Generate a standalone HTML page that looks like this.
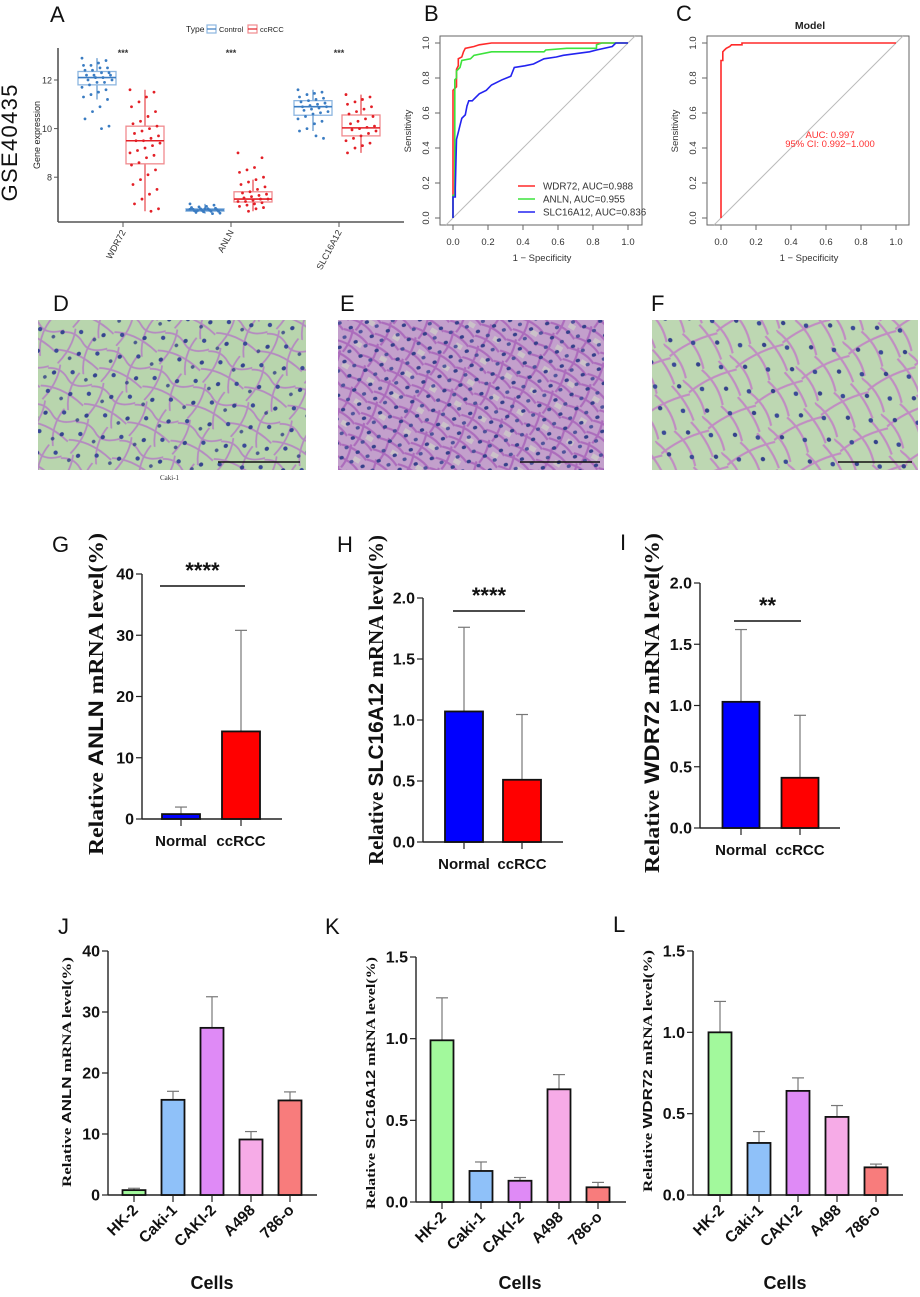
<!DOCTYPE html>
<html><head><meta charset="utf-8">
<style>
html,body{margin:0;padding:0;background:#fff;}
svg{display:block;font-family:"Liberation Sans",sans-serif;}
</style></head>
<body>
<svg id="fig" xmlns="http://www.w3.org/2000/svg" width="920" height="1297" viewBox="0 0 920 1297">
<defs>
 <pattern id="memD" width="47" height="39" patternUnits="userSpaceOnUse" patternTransform="rotate(23)">
  <path d="M0 8 Q12 2 22 10 T47 6 M10 0 Q15 18 7 39 M31 0 Q25 21 35 39 M0 27 Q21 19 47 29" stroke="#b47ec3" stroke-width="1.8" fill="none" opacity="0.85"/>
 </pattern>
 <pattern id="nucD" width="31" height="27" patternUnits="userSpaceOnUse" patternTransform="rotate(-37)">
  <ellipse cx="5" cy="6" rx="2.3" ry="2" fill="#34448e"/><ellipse cx="20" cy="17" rx="2.2" ry="2.1" fill="#3a4a96"/>
  <ellipse cx="26" cy="4" rx="1.9" ry="1.8" fill="#2f3d86" opacity="0.8"/>
 </pattern>
 <pattern id="memE" width="29" height="25" patternUnits="userSpaceOnUse" patternTransform="rotate(31)">
  <path d="M0 5 Q15 0 29 6 M0 18 Q15 13 29 20 M8 0 Q13 13 11 25" stroke="#a65fb8" stroke-width="2.2" fill="none" opacity="0.8"/>
  <rect x="17" y="8" width="7" height="5" fill="#d0d8c6" opacity="0.6"/>
 </pattern>
 <pattern id="nucE" width="17" height="15" patternUnits="userSpaceOnUse" patternTransform="rotate(-19)">
  <ellipse cx="4" cy="4" rx="2.2" ry="1.8" fill="#35408a"/><ellipse cx="12" cy="11" rx="2.1" ry="1.7" fill="#3b4793" opacity="0.85"/>
 </pattern>
 <pattern id="memF" width="53" height="41" patternUnits="userSpaceOnUse" patternTransform="rotate(-28)">
  <path d="M0 0 Q10 20 4 41 M22 0 Q30 20 24 41 M0 14 Q26 9 53 16 M41 0 Q47 22 44 41" stroke="#c07ac6" stroke-width="2.2" fill="none" opacity="0.8"/>
 </pattern>
 <pattern id="nucF" width="37" height="29" patternUnits="userSpaceOnUse" patternTransform="rotate(41)">
  <ellipse cx="8" cy="7" rx="2.4" ry="2.2" fill="#3a4a96"/><ellipse cx="26" cy="20" rx="2.3" ry="2.1" fill="#34428a"/>
 </pattern>
</defs>
<g id="root"></g>
</svg>
<script>
// ---------- Panel A data ----------
const boxGenes = ["WDR72", "ANLN", "SLC16A12"];
const boxGroups = ["Control", "ccRCC"];
// [lowerWhisker, q1, median, q3, upperWhisker]
const statsControl = [[11.2, 11.8, 12.1, 12.35, 12.9], [6.5, 6.6, 6.65, 6.7, 6.9], [9.9, 10.55, 10.9, 11.15, 11.6]];
const statsCcRCC = [[6.6, 8.55, 9.5, 10.1, 11.6], [6.6, 6.98, 7.1, 7.4, 7.9], [9.0, 9.7, 10.03, 10.56, 11.4]];
const pointsControl = [
 [12.9,12.8,12.7,12.6,12.6,12.5,12.5,12.4,12.4,12.3,12.3,12.2,12.2,12.2,12.1,12.1,12.0,12.0,11.9,11.9,11.8,11.7,11.6,11.5,11.4,11.3,11.2,10.9,10.7,10.4,10.1,10.0],
 [6.9,6.85,6.8,6.78,6.75,6.72,6.7,6.7,6.68,6.66,6.65,6.64,6.62,6.6,6.6,6.58,6.55,6.52,6.5,6.7,6.63,6.68],
 [11.6,11.5,11.45,11.4,11.3,11.25,11.2,11.15,11.1,11.05,11.0,10.95,10.9,10.9,10.85,10.8,10.75,10.7,10.65,10.6,10.5,10.4,10.3,10.2,10.0,9.9,9.6,9.7]];
const pointsCcRCC = [
 [11.6,11.5,11.3,11.1,10.9,10.7,10.5,10.3,10.2,10.1,10.0,9.9,9.8,9.7,9.6,9.5,9.5,9.4,9.3,9.2,9.1,9.0,8.9,8.8,8.6,8.5,8.3,8.1,7.9,7.7,7.5,7.3,7.1,6.9,6.7,6.6],
 [9.0,8.8,8.4,8.3,8.2,8.0,7.9,7.8,7.7,7.6,7.5,7.4,7.35,7.3,7.25,7.2,7.15,7.1,7.1,7.05,7.0,7.0,6.95,6.9,6.85,6.8,6.75,6.7,6.6],
 [11.4,11.3,11.2,11.1,11.0,10.9,10.8,10.7,10.6,10.5,10.4,10.3,10.2,10.1,10.05,10.0,9.95,9.9,9.8,9.7,9.6,9.5,9.4,9.3,9.2,9.0]];
const boxYTicks = [8, 10, 12];

// ---------- Panel B/C data (ROC) ----------
const rocNames = ["WDR72, AUC=0.988", "ANLN, AUC=0.955", "SLC16A12, AUC=0.836"];
const rocWdr72Fpr = [0,0,0.02,0.02,0.03,0.03,0.05,0.06,0.07,0.12,0.15,0.22,1.0];
const rocWdr72Tpr = [0,0.73,0.75,0.85,0.87,0.91,0.92,0.95,0.97,0.98,0.99,1.0,1.0];
const rocAnlnFpr = [0,0,0.01,0.01,0.02,0.02,0.04,0.05,0.10,0.12,0.22,0.52,0.53,0.65,0.82,0.82,0.85,1.0];
const rocAnlnTpr = [0,0.13,0.13,0.79,0.80,0.84,0.86,0.90,0.91,0.93,0.95,0.95,0.96,0.97,0.97,0.99,1.0,1.0];
const rocSlcFpr = [0,0,0.013,0.013,0.02,0.03,0.04,0.05,0.07,0.08,0.09,0.11,0.12,0.15,0.19,0.22,0.28,0.33,0.35,0.41,0.46,0.52,0.59,0.63,0.78,0.82,0.91,0.93,1.0];
const rocSlcTpr = [0,0.12,0.12,0.17,0.45,0.49,0.53,0.57,0.59,0.64,0.67,0.67,0.68,0.71,0.73,0.76,0.79,0.81,0.86,0.87,0.88,0.91,0.92,0.93,0.95,0.96,0.98,1.0,1.0];
const rocModelFpr = [0,0,0.01,0.01,0.02,0.03,0.05,0.06,0.12,0.12,1.0];
const rocModelTpr = [0,0.90,0.90,0.95,0.96,0.97,0.98,0.99,0.99,1.0,1.0];
const rocTicks = [0, 0.2, 0.4, 0.6, 0.8, 1.0];
const rocTickLabels = ["0.0","0.2","0.4","0.6","0.8","1.0"];

// ---------- Panel G/H/I data ----------
const groupCats = ["Normal", "ccRCC"];
const anlnTissueMean = [0.8, 14.3];
const anlnTissueErr = [1.95, 30.8];
const slcTissueMean = [1.07, 0.51];
const slcTissueErr = [1.76, 1.045];
const wdrTissueMean = [1.03, 0.41];
const wdrTissueErr = [1.62, 0.92];
const ticks40 = [0, 10, 20, 30, 40];
const ticks2 = [0, 0.5, 1.0, 1.5, 2.0];
const ticks2Labels = ["0.0","0.5","1.0","1.5","2.0"];

// ---------- Panel J/K/L data ----------
const cellCats = ["HK-2", "Caki-1", "CAKI-2", "A498", "786-o"];
const anlnCellMean = [0.8, 15.6, 27.4, 9.1, 15.5];
const anlnCellErr = [1.1, 17.0, 32.5, 10.4, 16.9];
const slcCellMean = [0.99, 0.19, 0.13, 0.69, 0.09];
const slcCellErr = [1.25, 0.245, 0.15, 0.78, 0.12];
const wdrCellMean = [1.0, 0.32, 0.64, 0.48, 0.17];
const wdrCellErr = [1.19, 0.39, 0.72, 0.55, 0.19];
const ticks15 = [0, 0.5, 1.0, 1.5];
const ticks15Labels = ["0.0","0.5","1.0","1.5"];

const NS = "http://www.w3.org/2000/svg";
const root = document.getElementById("root");
function mk(tag, attrs, parent, text) {
  const e = document.createElementNS(NS, tag);
  for (const k in attrs) e.setAttribute(k, attrs[k]);
  if (text !== undefined) e.textContent = text;
  (parent || root).appendChild(e);
  return e;
}
function grp(name, parent) {
  const g = mk("g", {}, parent);
  
  
  return g;
}
function label(txt, x, y, name) {
  const t = mk("text", {x: x, y: y, "font-size": 22, fill: "#111"}, root, txt);
  
  
}

// ================= Panel A =================
(function () {
  const g = grp("panel-a-boxplot");
  const yA = v => 80 + (12 - v) * 24.3;
  const catX = [123, 231, 339];
  const offs = [-26, 22];
  const cols = ["#3a7cc2", "#e31f26"];
  const light = ["#8db6e0", "#f08a8e"];
  label("A", 50, 22, "panel-a-label");
  const gse = mk("text", {x: 0, y: 0, "font-size": 22, fill: "#111", transform: "translate(17,143) rotate(-90)", "text-anchor": "middle", textLength: 117}, g, "GSE40435");
  
  
  const yt = mk("text", {x: 0, y: 0, "font-size": 9, fill: "#222", transform: "translate(40,135) rotate(-90)", "text-anchor": "middle"}, g, "Gene expression");
  
  
  // legend
  const lg = grp("legend", g);
  mk("text", {x: 186, y: 32, "font-size": 8.5, fill: "#222"}, lg, "Type");
  boxGroups.forEach((name, i) => {
    const lx = [207, 248][i];
    const e = mk("rect", {x: lx, y: 25, width: 9, height: 8, fill: "none", stroke: light[i], "stroke-width": 1.2}, lg);
    
    
    mk("line", {x1: lx, x2: lx + 9, y1: 29, y2: 29, stroke: cols[i], "stroke-width": 1.2}, lg);
    const t = mk("text", {x: lx + 12, y: 32, "font-size": 7.5, fill: "#222"}, lg, name);
    
    
  });
  // axes
  mk("line", {x1: 58, x2: 58, y1: 48, y2: 222, stroke: "#555", "stroke-width": 1.6}, g);
  mk("line", {x1: 58, x2: 404, y1: 222, y2: 222, stroke: "#555", "stroke-width": 1.6}, g);
  boxYTicks.forEach(v => {
    mk("line", {x1: 54, x2: 58, y1: yA(v), y2: yA(v), stroke: "#555"}, g);
    const t = mk("text", {x: 52, y: yA(v) + 3.5, "font-size": 9, fill: "#333", "text-anchor": "end"}, g, String(v));
    
    
  });
  boxGenes.forEach((gene, ci) => {
    const cx = catX[ci];
    mk("line", {x1: cx, x2: cx, y1: 222, y2: 227, stroke: "#555"}, g);
    const t = mk("text", {x: 0, y: 0, "font-size": 9, fill: "#333", "text-anchor": "end", transform: `translate(${cx + 3},232) rotate(-62)`}, g, gene);
    
    
    const s = mk("text", {x: cx, y: 56, "font-size": 9, "font-weight": "bold", fill: "#333", "text-anchor": "middle"}, g, "***");
    
    
    [statsControl, statsCcRCC].forEach((st, gi) => {
      const d = st[ci];
      const bx = cx + offs[gi];
      const hw = 19;
      const bg = grp('box-' + gene.toLowerCase() + '-' + boxGroups[gi].toLowerCase(), g);
      mk("line", {x1: bx, x2: bx, y1: yA(d[4]), y2: yA(d[3]), stroke: cols[gi], "stroke-width": 1}, bg);
      mk("line", {x1: bx, x2: bx, y1: yA(d[1]), y2: yA(d[0]), stroke: cols[gi], "stroke-width": 1}, bg);
      mk("rect", {x: bx - hw, y: yA(d[3]), width: 2 * hw, height: Math.max(1, yA(d[1]) - yA(d[3])), fill: "#fff", "fill-opacity": 0.6, stroke: light[gi], "stroke-width": 1.3}, bg);
      mk("line", {x1: bx - hw, x2: bx + hw, y1: yA(d[2]), y2: yA(d[2]), stroke: cols[gi], "stroke-width": 1.6}, bg);
      const pts = (gi === 0 ? pointsControl : pointsCcRCC)[ci];
      pts.forEach((v, i) => {
        const jitter = (((i * 37) % 21) - 10) / 10 * 15;
        const p = mk("circle", {cx: bx + jitter, cy: yA(v), r: 1.4, fill: cols[gi]}, bg);
        
        
      });
    });
  });
})();

// ================= ROC panels =================
function rocPanel(opt) {
  const g = grp(opt.name);
  const sx = v => opt.x0 + v * 175;
  const sy = v => 218 - v * 175;
  mk("rect", {x: opt.bx, y: 36, width: 202, height: 189, fill: "none", stroke: "#666", "stroke-width": 1}, g);
  mk("line", {x1: sx(-0.04), y1: sy(-0.04), x2: sx(1.04), y2: sy(1.04), stroke: "#bbb", "stroke-width": 1}, g);
  rocTicks.forEach((v, i) => {
    mk("line", {x1: sx(v), x2: sx(v), y1: 225, y2: 230, stroke: "#666"}, g);
    const t = mk("text", {x: sx(v), y: 245, "font-size": 9.5, fill: "#333", "text-anchor": "middle"}, g, rocTickLabels[i]);
    
    
    mk("line", {x1: opt.bx - 5, x2: opt.bx, y1: sy(v), y2: sy(v), stroke: "#666"}, g);
    const t2 = mk("text", {x: 0, y: 0, "font-size": 9.5, fill: "#333", "text-anchor": "middle", transform: `translate(${opt.bx - 11},${sy(v)}) rotate(-90)`}, g, rocTickLabels[i]);
    
    
  });
  const xt = mk("text", {x: opt.bx + 102, y: 261, "font-size": 9.5, fill: "#333", "text-anchor": "middle"}, g, "1 − Specificity");
  
  
  const ytt = mk("text", {x: 0, y: 0, "font-size": 9.5, fill: "#333", "text-anchor": "middle", transform: `translate(${opt.bx - 29},131) rotate(-90)`}, g, "Sensitivity");
  
  
  opt.series.forEach(s => {
    const d = s.fpr.map((f, i) => (i ? "L" : "M") + sx(f).toFixed(1) + " " + sy(s.tpr[i]).toFixed(1)).join(" ");
    const p = mk("path", {d: d, fill: "none", stroke: s.color, "stroke-width": 1.6}, g);
    
    
  });
  return g;
}
label("B", 424, 21, "panel-b-label");
const gB = rocPanel({name: "panel-b-roc", bx: 440, x0: 453, series: [
  {id: "roc-wdr72", fpr: rocWdr72Fpr, tpr: rocWdr72Tpr, color: "#ff2a2a"},
  {id: "roc-anln", fpr: rocAnlnFpr, tpr: rocAnlnTpr, color: "#3de33d"},
  {id: "roc-slc16a12", fpr: rocSlcFpr, tpr: rocSlcTpr, color: "#2323f0"}]});
const legCols = ["#ff2a2a", "#3de33d", "#2323f0"];
rocNames.forEach((n, i) => {
  const y = 186 + i * 13;
  mk("line", {x1: 518, x2: 535, y1: y, y2: y, stroke: legCols[i], "stroke-width": 1.5}, gB);
  const t = mk("text", {x: 543, y: y + 3.5, "font-size": 9.8, fill: "#333"}, gB, n);
  
  
});
label("C", 676, 21, "panel-c-label");
const gC = rocPanel({name: "panel-c-roc", bx: 707, x0: 721, series: [
  {id: "roc-model", fpr: rocModelFpr, tpr: rocModelTpr, color: "#ff2a2a"}]});
const ct = mk("text", {x: 810, y: 29, "font-size": 10.5, "font-weight": "bold", fill: "#222", "text-anchor": "middle"}, gC, "Model");


const a1 = mk("text", {x: 830, y: 138, "font-size": 9.5, fill: "#ff3030", "text-anchor": "middle"}, gC, "AUC: 0.997");


const a2 = mk("text", {x: 830, y: 147, "font-size": 9.5, fill: "#ff3030", "text-anchor": "middle"}, gC, "95% CI: 0.992−1.000");



// ================= Histology =================
(function () {
  const g = grp("histology-row");
  const imgs = [["D", 53, 38, 268, "#b8d5ad", "memD", "nucD", 218, 300], ["E", 340, 338, 266, "#c3a0cc", "memE", "nucE", 520, 600], ["F", 651, 652, 266, "#bdd7b2", "memF", "nucF", 838, 912]];
  imgs.forEach(m => {
    label(m[0], m[1], 311, "panel-" + m[0].toLowerCase() + "-label");
    const ig = grp('he-stain-image-' + m[0].toLowerCase(), g);
    mk("rect", {x: m[2], y: 320, width: m[3], height: 150, fill: m[4]}, ig);
    mk("rect", {x: m[2], y: 320, width: m[3], height: 150, fill: `url(#${m[5]})`}, ig);
    mk("rect", {x: m[2], y: 320, width: m[3], height: 150, fill: `url(#${m[6]})`}, ig);
    const sb = mk("line", {x1: m[7], x2: m[8], y1: 462, y2: 462, stroke: "#111", "stroke-width": 1.6}, g);
    
    
  });
  const ck = mk("text", {x: 160, y: 480, "font-size": 7, fill: "#333", "font-family": "Liberation Serif, serif"}, g, "Caki-1");
  
  
})();

// ================= Bar charts =================
function barChart(o) {
  const g = grp(o.name);
  const sy = v => o.y0 - (v / o.max) * (o.y0 - o.yTop);
  mk("line", {x1: o.ax, x2: o.ax, y1: sy(o.max), y2: o.y0, stroke: "#222", "stroke-width": 1.4}, g);
  mk("line", {x1: o.ax, x2: o.xEnd, y1: o.y0, y2: o.y0, stroke: "#222", "stroke-width": 1.4}, g);
  o.ticks.forEach((v, i) => {
    mk("line", {x1: o.ax - 6, x2: o.ax, y1: sy(v), y2: sy(v), stroke: "#222", "stroke-width": 1.2}, g);
    const t = mk("text", {x: o.ax - 8, y: sy(v) + 5.5, "font-size": o.tickFs, "font-weight": "bold", fill: "#111", "text-anchor": "end"}, g, o.tickLabels[i]);
    
    
  });
  o.cats.forEach((c, i) => {
    const cx = o.c0 + i * o.step;
    const eb = mk("line", {x1: cx, x2: cx, y1: sy(o.err[i]), y2: sy(o.vals[i]), stroke: "#777", "stroke-width": 1.2}, g);
    
    
    mk("line", {x1: cx - 6, x2: cx + 6, y1: sy(o.err[i]), y2: sy(o.err[i]), stroke: "#777", "stroke-width": 1.2}, g);
    const b = mk("rect", {x: cx - o.bw / 2, y: sy(o.vals[i]), width: o.bw, height: o.y0 - sy(o.vals[i]), fill: o.colors[i], stroke: "#111", "stroke-width": 1.8}, g);
    
    
    mk("line", {x1: cx, x2: cx, y1: o.y0, y2: o.y0 + 7, stroke: "#222", "stroke-width": 1.2}, g);
    let t;
    if (o.rot) {
      t = mk("text", {x: 0, y: 0, "font-size": 15.5, "font-weight": "bold", fill: "#111", "text-anchor": "end", transform: `translate(${cx + 5},${o.y0 + 16}) rotate(-45)`}, g, c);
    } else {
      t = mk("text", {x: cx, y: o.y0 + 27, "font-size": 15, "font-weight": "bold", fill: "#111", "text-anchor": "middle"}, g, c);
    }
    
    
  });
  const yt = mk("text", {x: 0, y: 0, "font-weight": "bold", fill: "#111", "text-anchor": "middle", "font-size": o.yFs, transform: `translate(${o.ytx},${o.yty}) rotate(-90)`, textLength: o.ytLen, lengthAdjust: "spacingAndGlyphs"}, g);
  
  
  mk("tspan", {"font-family": "Liberation Serif, serif"}, yt, "Relative ");
  mk("tspan", {"font-family": "Liberation Sans, sans-serif"}, yt, o.gene);
  mk("tspan", {"font-family": "Liberation Serif, serif"}, yt, " mRNA  level(%)");
  if (o.sig) {
    const l = mk("line", {x1: o.sig[0], x2: o.sig[1], y1: o.sig[2], y2: o.sig[2], stroke: "#111", "stroke-width": 1.6}, g);
    
    
    const s = mk("text", {x: (o.sig[0] + o.sig[1]) / 2, y: o.sig[2] - 8, "font-size": 22, "font-weight": "bold", fill: "#111", "text-anchor": "middle"}, g, o.sig[3]);
    
    
  }
  if (o.xTitle) {
    const xt = mk("text", {x: o.xTitle, y: 1289, "font-size": 18, "font-weight": "bold", fill: "#111", "text-anchor": "middle"}, g, "Cells");
    
    
  }
}
const twoCols = ["#0000ff", "#ff0000"];
const fiveCols = ["#a2f99c", "#8fc1f9", "#df8af6", "#f6abe7", "#f87c7c"];

label("G", 52, 552, "panel-g-label");
barChart({name: "panel-g-anln-tissue", cats: groupCats, vals: anlnTissueMean, err: anlnTissueErr, colors: twoCols, ax: 142, y0: 819, yTop: 574, max: 40, ticks: ticks40, tickLabels: ticks40.map(String), tickFs: 16, c0: 181, step: 60, bw: 38, xEnd: 282, ytx: 103, yty: 694, yFs: 21, ytLen: 322, gene: "ANLN", sig: [160, 245, 586, "****"]});
label("H", 337, 552, "panel-h-label");
barChart({name: "panel-h-slc16a12-tissue", cats: groupCats, vals: slcTissueMean, err: slcTissueErr, colors: twoCols, ax: 423, y0: 842, yTop: 598, max: 2, ticks: ticks2, tickLabels: ticks2Labels, tickFs: 16, c0: 464, step: 58, bw: 38, xEnd: 563, ytx: 383, yty: 700, yFs: 21, ytLen: 330, gene: "SLC16A12", sig: [453, 525, 611, "****"]});
label("I", 620, 550, "panel-i-label");
barChart({name: "panel-i-wdr72-tissue", cats: groupCats, vals: wdrTissueMean, err: wdrTissueErr, colors: twoCols, ax: 700, y0: 828, yTop: 583, max: 2, ticks: ticks2, tickLabels: ticks2Labels, tickFs: 16, c0: 741, step: 59, bw: 37, xEnd: 840, ytx: 659, yty: 703, yFs: 21, ytLen: 340, gene: "WDR72", sig: [734, 801, 621, "**"]});

label("J", 58, 934, "panel-j-label");
barChart({name: "panel-j-anln-cells", cats: cellCats, vals: anlnCellMean, err: anlnCellErr, colors: fiveCols, ax: 108, y0: 1195, yTop: 951, max: 40, ticks: ticks40, tickLabels: ticks40.map(String), tickFs: 16, c0: 134, step: 39, bw: 23, xEnd: 317, ytx: 71, yty: 1072, yFs: 13, ytLen: 230, gene: "ANLN", rot: true, xTitle: 212});
label("K", 325, 934, "panel-k-label");
barChart({name: "panel-k-slc16a12-cells", cats: cellCats, vals: slcCellMean, err: slcCellErr, colors: fiveCols, ax: 416, y0: 1202, yTop: 957, max: 1.5, ticks: ticks15, tickLabels: ticks15Labels, tickFs: 16, c0: 442, step: 39, bw: 23, xEnd: 626, ytx: 375, yty: 1083, yFs: 13, ytLen: 252, gene: "SLC16A12", rot: true, xTitle: 520});
label("L", 613, 932, "panel-l-label");
barChart({name: "panel-l-wdr72-cells", cats: cellCats, vals: wdrCellMean, err: wdrCellErr, colors: fiveCols, ax: 693, y0: 1195, yTop: 951, max: 1.5, ticks: ticks15, tickLabels: ticks15Labels, tickFs: 16, c0: 720, step: 39, bw: 23, xEnd: 903, ytx: 652, yty: 1071, yFs: 13, ytLen: 242, gene: "WDR72", rot: true, xTitle: 785});
</script>
</body></html>
